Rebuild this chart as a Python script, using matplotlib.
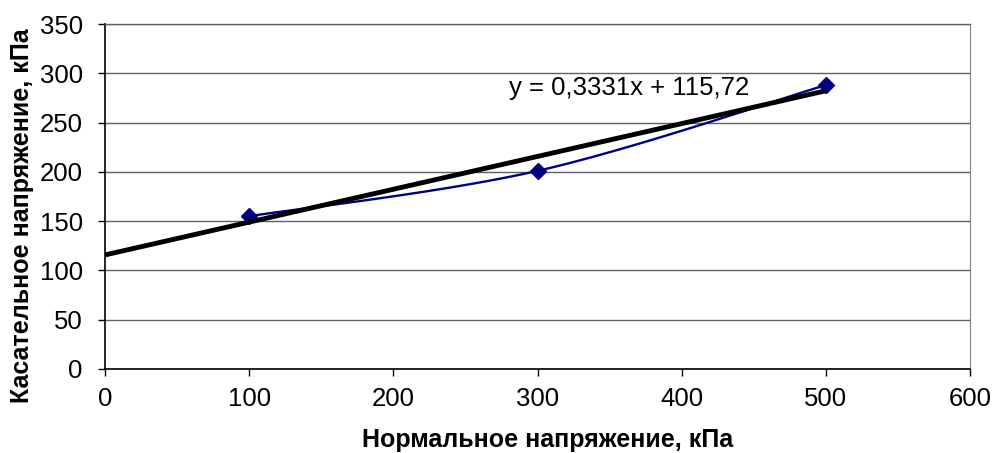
import numpy as np
import matplotlib
matplotlib.use("Agg")
import matplotlib.pyplot as plt

plt.rcParams['font.family'] = ['Liberation Sans', 'DejaVu Sans']

x_vals = [100, 300, 500]
y_vals = [155, 201, 288]
slope = 0.3331
intercept = 115.72
trend_x = [0, 500]
equation = "y = 0,3331x + 115,72"
x_ticks = [0, 100, 200, 300, 400, 500, 600]
y_ticks = [0, 50, 100, 150, 200, 250, 300, 350]
x_label = "Нормальное напряжение, кПа"
y_label = "Касательное напряжение, кПа"

W, H = 993, 453
fig = plt.figure(figsize=(W/100, H/100), dpi=100)
ax = fig.add_axes([105/W, 1 - 369/H, (970-105)/W, (369-24)/H])
ax.set_xlim(0, 600)
ax.set_ylim(0, 350)

# Excel-like smoothed line (Bezier through points)
px = np.array(x_vals, float)
py = np.array(y_vals, float)
sx, sy = 865/600, 345/350
P = np.column_stack([px*sx, py*sy])
curve = []
n = len(P)
for i in range(n-1):
    p0 = P[i-1] if i > 0 else P[i]
    p1 = P[i]
    p2 = P[i+1]
    p3 = P[i+2] if i+2 < n else P[i+1]
    c1 = p1 + (p2 - p0)/6
    c2 = p2 - (p3 - p1)/6
    t = np.linspace(0, 1, 60)[:, None]
    seg = (1-t)**3*p1 + 3*(1-t)**2*t*c1 + 3*(1-t)*t**2*c2 + t**3*p2
    curve.append(seg)
curve = np.vstack(curve)
ax.plot(curve[:, 0]/sx, curve[:, 1]/sy, color='#000080', lw=1.7, zorder=3)
ax.plot(x_vals, y_vals, linestyle='none', marker='D', color='#000080', ms=8, zorder=4)

tx = np.array(trend_x, float)
ax.plot(tx, slope*tx + intercept, color='black', lw=3.5, zorder=5, solid_capstyle='butt')

ax.text(280, 285, equation, fontsize=18.5, ha='left', va='center', zorder=6)

ax.set_xticks(x_ticks)
ax.set_yticks(y_ticks)
ax.tick_params(labelsize=18.5, direction='out', length=5, width=1, color='black')
ax.tick_params(axis='y', pad=11)
ax.tick_params(axis='x', pad=8)
ax.grid(axis='y', color='#606060', lw=1)
ax.set_axisbelow(True)
for s in ['left', 'bottom']:
    ax.spines[s].set_color('black')
    ax.spines[s].set_linewidth(1.2)
ax.spines['right'].set_color('#808080')
ax.spines['top'].set_color('#606060')
ax.spines['top'].set_linewidth(1)

fig.text(548/W, 1 - 440/H, x_label, fontsize=18, fontweight='bold', ha='center', va='center')
fig.text(22/W, 1 - 216/H, y_label, fontsize=18, fontweight='bold', ha='center', va='center', rotation=90)

fig.savefig('out.png', dpi=100)
